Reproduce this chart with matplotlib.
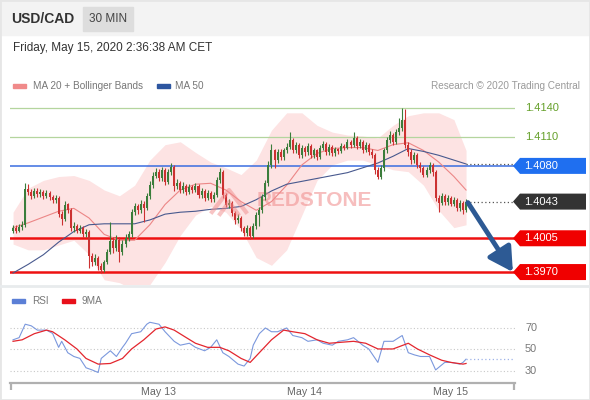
import matplotlib
matplotlib.use('Agg')
import matplotlib.pyplot as plt
import matplotlib.transforms as mtransforms
from matplotlib.patches import Rectangle, Polygon
from matplotlib.lines import Line2D
import numpy as np
import pandas as pd

plt.rcParams['font.family'] = ['Liberation Sans', 'DejaVu Sans']

# USD/CAD 30 min candles, 12 May 00:00 -> 15 May 02:30
closes = [1.4016, 1.4013, 1.4017, 1.4019, 1.4056, 1.4053, 1.4049, 1.4054, 1.4051, 1.4053,
          1.4049, 1.4052, 1.4048, 1.4045, 1.4047, 1.4030, 1.4025, 1.4040, 1.4034, 1.4016,
          1.4018, 1.4013, 1.4016, 1.4009, 1.4012, 1.3987, 1.3980, 1.3985, 1.3976, 1.3972,
          1.3980, 1.3991, 1.4002, 1.3995, 1.4003, 1.3991, 1.3999, 1.4005, 1.4009, 1.4032,
          1.4038, 1.4034, 1.4041, 1.4036, 1.4049, 1.4060, 1.4070, 1.4074, 1.4067, 1.4076,
          1.4063, 1.4074, 1.4079, 1.4059, 1.4062, 1.4055, 1.4059, 1.4053, 1.4058, 1.4055,
          1.4059, 1.4050, 1.4054, 1.4047, 1.4052, 1.4046, 1.4050, 1.4065, 1.4074, 1.4050,
          1.4040, 1.4042, 1.4031, 1.4024, 1.4026, 1.4016, 1.4010, 1.4016, 1.4007, 1.4018,
          1.4029, 1.4034, 1.4048, 1.4062, 1.4081, 1.4096, 1.4086, 1.4094, 1.4089, 1.4096,
          1.4100, 1.4107, 1.4096, 1.4102, 1.4091, 1.4099, 1.4094, 1.4101, 1.4091, 1.4096,
          1.4089, 1.4099, 1.4103, 1.4094, 1.4100, 1.4093, 1.4097, 1.4095, 1.4101, 1.4099,
          1.4105, 1.4102, 1.4109, 1.4101, 1.4105, 1.4096, 1.4102, 1.4094, 1.4091, 1.4076,
          1.4069, 1.4078, 1.4096, 1.4107, 1.4112, 1.4105, 1.4115, 1.4119, 1.4128, 1.4102,
          1.4094, 1.4086, 1.4091, 1.4081, 1.4078, 1.4071, 1.4076, 1.4081, 1.4074, 1.4047,
          1.4042, 1.4049, 1.4043, 1.4047, 1.4041, 1.4045, 1.4036, 1.4042, 1.4034, 1.4043]
opens = [1.4013] + closes[:-1]
highs = [1.4019, 1.4019, 1.4020, 1.4023, 1.4062, 1.4061, 1.4056, 1.4057, 1.4057, 1.4056,
         1.4055, 1.4055, 1.4054, 1.4050, 1.4050, 1.4049, 1.4033, 1.4044, 1.4042, 1.4036,
         1.4022, 1.4020, 1.4019, 1.4018, 1.4015, 1.4014, 1.3990, 1.3989, 1.3987, 1.3979,
         1.3983, 1.3994, 1.4022, 1.4006, 1.4008, 1.4006, 1.4003, 1.4009, 1.4013, 1.4035,
         1.4042, 1.4041, 1.4045, 1.4044, 1.4052, 1.4064, 1.4074, 1.4078, 1.4077, 1.4079,
         1.4078, 1.4077, 1.4083, 1.4081, 1.4066, 1.4064, 1.4063, 1.4061, 1.4061, 1.4060,
         1.4062, 1.4061, 1.4057, 1.4056, 1.4055, 1.4054, 1.4053, 1.4068, 1.4078, 1.4076,
         1.4052, 1.4046, 1.4044, 1.4033, 1.4030, 1.4028, 1.4018, 1.4019, 1.4018, 1.4021,
         1.4032, 1.4037, 1.4051, 1.4065, 1.4085, 1.4103, 1.4098, 1.4098, 1.4097, 1.4099,
         1.4104, 1.4115, 1.4109, 1.4105, 1.4104, 1.4102, 1.4101, 1.4104, 1.4103, 1.4099,
         1.4098, 1.4102, 1.4106, 1.4105, 1.4103, 1.4102, 1.4100, 1.4099, 1.4104, 1.4103,
         1.4108, 1.4107, 1.4115, 1.4111, 1.4108, 1.4107, 1.4105, 1.4104, 1.4097, 1.4093,
         1.4079, 1.4081, 1.4099, 1.4110, 1.4116, 1.4114, 1.4118, 1.4130, 1.4140, 1.4139,
         1.4105, 1.4097, 1.4094, 1.4093, 1.4084, 1.4080, 1.4079, 1.4084, 1.4083, 1.4076,
         1.4050, 1.4052, 1.4051, 1.4050, 1.4049, 1.4048, 1.4047, 1.4045, 1.4044, 1.4046]
lows = [1.4010, 1.4010, 1.4011, 1.4014, 1.4017, 1.4050, 1.4046, 1.4047, 1.4048, 1.4048,
        1.4046, 1.4047, 1.4045, 1.4042, 1.4042, 1.4027, 1.4019, 1.4023, 1.4031, 1.4013,
        1.4012, 1.4010, 1.4010, 1.4006, 1.4006, 1.3974, 1.3976, 1.3977, 1.3972, 1.3969,
        1.3970, 1.3978, 1.3989, 1.3990, 1.3992, 1.3980, 1.3988, 1.3996, 1.4002, 1.4006,
        1.4029, 1.4030, 1.4031, 1.4022, 1.4034, 1.4046, 1.4057, 1.4067, 1.4064, 1.4064,
        1.4060, 1.4061, 1.4071, 1.4054, 1.4056, 1.4052, 1.4052, 1.4050, 1.4051, 1.4052,
        1.4053, 1.4047, 1.4047, 1.4044, 1.4045, 1.4043, 1.4043, 1.4048, 1.4062, 1.4047,
        1.4037, 1.4036, 1.4028, 1.4020, 1.4021, 1.4013, 1.4007, 1.4007, 1.4004, 1.4005,
        1.4015, 1.4018, 1.4031, 1.4045, 1.4059, 1.4078, 1.4078, 1.4083, 1.4086, 1.4086,
        1.4093, 1.4097, 1.4093, 1.4093, 1.4088, 1.4088, 1.4090, 1.4091, 1.4088, 1.4088,
        1.4086, 1.4087, 1.4096, 1.4091, 1.4091, 1.4090, 1.4090, 1.4092, 1.4093, 1.4096,
        1.4097, 1.4099, 1.4100, 1.4098, 1.4099, 1.4093, 1.4094, 1.4091, 1.4088, 1.4072,
        1.4066, 1.4066, 1.4075, 1.4093, 1.4104, 1.4102, 1.4103, 1.4112, 1.4116, 1.4099,
        1.4090, 1.4082, 1.4083, 1.4078, 1.4074, 1.4068, 1.4068, 1.4073, 1.4070, 1.4044,
        1.4032, 1.4039, 1.4040, 1.4040, 1.4038, 1.4038, 1.4033, 1.4033, 1.4030, 1.4032]

# indicator lines, every 5th candle
ind_idx = list(range(0, 150, 5)) + [149]
ma20 = [1.4016, 1.4021, 1.4027, 1.4033, 1.4036, 1.4026, 1.4009, 1.4003, 1.4003, 1.4019,
        1.4040, 1.4055, 1.4061, 1.4062, 1.4055, 1.4043, 1.4034, 1.4043, 1.4060, 1.4081,
        1.4093, 1.4098, 1.4099, 1.4099, 1.4096, 1.4102, 1.4104, 1.4096, 1.4084, 1.4069, 1.4055]
bb_upper = [1.4032, 1.4057, 1.4065, 1.4069, 1.4070, 1.4065, 1.4055, 1.4049, 1.4060, 1.4086,
            1.4102, 1.4105, 1.4094, 1.4084, 1.4078, 1.4071, 1.4086, 1.4117, 1.4135, 1.4135,
            1.4122, 1.4115, 1.4112, 1.4111, 1.4109, 1.4122, 1.4132, 1.4135, 1.4135, 1.4128, 1.4096]
bb_lower = [1.3999, 1.3993, 1.3993, 1.3998, 1.4003, 1.3988, 1.3962, 1.3959, 1.3951, 1.3957,
            1.3980, 1.4008, 1.4029, 1.4038, 1.4032, 1.4014, 1.3985, 1.3977, 1.3993, 1.4029,
            1.4065, 1.4081, 1.4086, 1.4086, 1.4081, 1.4076, 1.4074, 1.4060, 1.4034, 1.4016, 1.4019]
ma50 = [1.3969, 1.3978, 1.3988, 1.4001, 1.4012, 1.4019, 1.4020, 1.4020, 1.4020, 1.4024,
        1.4030, 1.4032, 1.4033, 1.4035, 1.4036, 1.4038, 1.4045, 1.4054, 1.4061, 1.4064,
        1.4067, 1.4070, 1.4073, 1.4078, 1.4083, 1.4090, 1.4098, 1.4095, 1.4091, 1.4086, 1.4082]

rsi_idx = [0, 2, 4, 6, 8, 11, 13, 15, 16, 18, 20, 22, 24, 26, 28, 29, 32, 34, 36, 37,
           39, 42, 44, 45, 48, 50, 53, 55, 58, 60, 63, 65, 67, 69, 71, 74, 76, 78, 79, 81,
           83, 85, 87, 90, 92, 95, 97, 100, 102, 105, 107, 110, 112, 115, 117, 120, 122, 125, 128, 130,
           132, 134, 137, 139, 142, 144, 147, 148, 149]
rsi = [59, 61, 73.5, 72, 68, 68, 65, 52, 57.6, 47, 43.5, 41.7, 33, 31, 28.6, 41.7, 48.8, 43.5, 52, 55.8,
       64.7, 66.5, 73.5, 75.3, 73.5, 66.5, 57.6, 54, 55.8, 52, 48.8, 52, 59, 47, 43.5, 36.4, 34.6, 41.7, 54, 64.7,
       70, 66.5, 66.5, 70, 63, 61, 57.6, 59, 55.8, 54, 57.6, 59, 61, 54, 50.5, 38, 57.6, 57.6, 63, 47,
       45, 43.5, 43.5, 31, 38, 38, 36.4, 38, 41]
rsi_ma_idx = [0, 3, 7, 11, 13, 17, 21, 24, 28, 32, 36, 39, 43, 47, 50, 53, 57, 60, 64, 68,
              71, 75, 78, 81, 85, 89, 92, 96, 100, 104, 107, 112, 116, 120, 125, 130, 133, 137, 141, 144,
              148, 149]
rsi_ma = [57.6, 59, 64.7, 68, 66.5, 59, 50.5, 41.7, 36.4, 37, 41.7, 50.5, 59, 69, 71, 68, 61, 55.8, 52, 52,
          48.8, 41.7, 38, 47, 59, 68, 66.5, 64.7, 59, 55.8, 56.5, 57.6, 55.8, 50.5, 50.5, 55.8, 50.5, 45, 40, 38,
          36.4, 37]

resistances = [1.4140, 1.4110]
pivot = 1.4080
supports = [1.4005, 1.3970]
target = 1.3970

times = pd.date_range('2020-05-12 00:00', periods=len(closes), freq='30min')

W, H = 590, 400
fig = plt.figure(figsize=(W / 100, H / 100), dpi=100)


def fx(px):
    return px / W


def fy(px):
    return 1 - px / H


# header
fig.patches.append(Rectangle((0, fy(35)), 1, 35 / H, transform=fig.transFigure,
                             color='#f3f3f3', zorder=0))
fig.patches.append(Rectangle((fx(83), fy(31)), fx(50), 24 / H, transform=fig.transFigure,
                             color='#dddddd', zorder=1))
fig.patches.append(Rectangle((0, 0), 1, 1, transform=fig.transFigure, fill=False,
                             edgecolor='#e6e6e6', lw=2, zorder=0))
fig.text(fx(11), fy(19), 'USD/CAD', fontsize=10, fontweight='bold', color='#333333', va='center')
fig.text(fx(108), fy(19), '30 MIN', fontsize=8.5, color='#444444', va='center', ha='center')
fig.text(fx(13), fy(48), 'Friday, May 15, 2020 2:36:38 AM CET', fontsize=8.5,
         color='#333333', va='center')

# legends
fig.patches.append(Rectangle((fx(13), fy(88)), fx(13), 4 / H, transform=fig.transFigure, color='#f08a8a'))
fig.text(fx(33), fy(86), 'MA 20 + Bollinger Bands', fontsize=7.2, color='#777777', va='center')
fig.patches.append(Rectangle((fx(157), fy(88)), fx(13), 4 / H, transform=fig.transFigure, color='#2d56a0'))
fig.text(fx(175), fy(86), 'MA 50', fontsize=7.2, color='#777777', va='center')
fig.text(fx(580), fy(86), 'Research \u00a9 2020 Trading Central', fontsize=7.2, color='#9a9a9a',
         va='center', ha='right')

fig.add_artist(Line2D([0, 1], [fy(286), fy(286)], transform=fig.transFigure, color='#e8ebed', lw=2))

fig.patches.append(Rectangle((fx(12), fy(303)), fx(13), 4 / H, transform=fig.transFigure, color='#5b7fd6'))
fig.text(fx(32), fy(301), 'RSI', fontsize=7.2, color='#777777', va='center')
fig.patches.append(Rectangle((fx(62), fy(303)), fx(13), 4 / H, transform=fig.transFigure, color='#e8101a'))
fig.text(fx(82), fy(301), '9MA', fontsize=7.2, color='#777777', va='center')

# main price panel
x0, x1 = -1.0, 165.1
px_per_unit = 9650.0
ax = fig.add_axes([fx(10), fy(284), fx(505), 188 / H])
ax.set_xlim(x0, x1)
ax.set_ylim(1.4140 - 176 / px_per_unit, 1.4140 + 12 / px_per_unit)
ax.axis('off')

x = np.arange(len(closes))
o = np.array(opens)
c = np.array(closes)
up = c >= o
cols = np.where(up, '#3b7d3b', '#cc3131')

ax.fill_between(ind_idx, bb_lower, bb_upper, color='#fde3e3', lw=0, zorder=1)
ax.plot(ind_idx, ma20, color='#ec8686', lw=0.8, zorder=2)
ax.plot(ind_idx, ma50, color='#48598e', lw=0.8, zorder=2)

ax.text(99, 1.4044, 'REDSTONE', fontsize=15, fontweight='bold', color='#f08a8a', alpha=0.55,
        ha='center', va='center', zorder=2.5)
roof = fig.transFigure
fig.add_artist(Line2D([fx(212), fx(229), fx(246)], [fy(212), fy(190), fy(212)], transform=roof,
                      color='#f08a8a', alpha=0.5, lw=3))
fig.add_artist(Line2D([fx(220), fx(229), fx(238)], [fy(214), fy(202), fy(214)], transform=roof,
                      color='#f08a8a', alpha=0.5, lw=3))

for lvl in resistances:
    ax.axhline(lvl, color='#b4d59e', lw=0.9, zorder=1.5)
ax.axhline(pivot, color='#3a6de0', lw=1.1, zorder=1.5)
for lvl in supports:
    ax.axhline(lvl, color='#ee1111', lw=1.8, zorder=1.5)

ax.vlines(x, lows, highs, colors=cols, lw=0.8, zorder=3)
body = np.maximum(np.abs(c - o), 0.00006)
ax.bar(x, body, bottom=np.minimum(o, c), width=0.66, color=cols, lw=0, zorder=4)

ax.hlines(closes[-1], x[-1], x1, colors='#555555', linestyles=(0, (1, 2)), lw=0.9, zorder=3)
ax.hlines(ma50[-1], ind_idx[-1], x1, colors='#555555', linestyles=(0, (1, 2)), lw=0.9, zorder=3)

# price tags on the right
trans = mtransforms.blended_transform_factory(fig.transFigure, ax.transData)
hh = 8 / px_per_unit


def tag(price, color):
    pts = [(fx(513), price), (fx(520), price + hh), (fx(586), price + hh),
           (fx(586), price - hh), (fx(520), price - hh)]
    fig.add_artist(Polygon(pts, closed=True, transform=trans, facecolor=color,
                           edgecolor='none', zorder=5))
    fig.text(fx(524), price, f'{price:.4f}', transform=trans, color='white', fontsize=8,
             va='center', zorder=8)


for lvl in resistances:
    fig.text(fx(525), lvl, f'{lvl:.4f}', transform=trans, color='#65a02a', fontsize=8,
             va='center', zorder=8)
tag(pivot, '#1f6ff0')
tag(closes[-1], '#333333')
for lvl in supports:
    tag(lvl, '#f00000')

ax.annotate('', xy=(164.4, target), xytext=(x[-1] + 0.6, closes[-1] - 0.0001),
            arrowprops=dict(arrowstyle='-|>,head_length=0.8,head_width=0.45', lw=3.5,
                            color='#2d5a94', shrinkA=0, shrinkB=0, mutation_scale=18),
            zorder=6, annotation_clip=False)

# RSI panel
ax2 = fig.add_axes([fx(10), fy(383), fx(505), 93 / H])
ax2.set_xlim(x0, x1)
ax2.set_ylim(18.85, 105.3)
for s in ['top', 'left', 'right']:
    ax2.spines[s].set_visible(False)
ax2.spines['bottom'].set_color('#b0b0b0')
ax2.spines['bottom'].set_linewidth(1.6)
ax2.set_yticks([])

for v in (70, 50, 30):
    ax2.axhline(v, color='#c8c8c8', ls=(0, (1, 2)), lw=0.8)
tr2 = mtransforms.blended_transform_factory(fig.transFigure, ax2.transData)
for v in (70, 50, 30):
    fig.text(fx(525), v, str(v), transform=tr2, color='#777777', fontsize=7.8, va='center')

ax2.plot(rsi_idx, rsi, color='#7b98dd', lw=0.8)
ax2.plot(rsi_ma_idx, rsi_ma, color='#e3262e', lw=0.9)
ax2.hlines(rsi[-1], rsi_idx[-1], x1, colors='#9fb3e8', linestyles=(0, (1, 2)), lw=0.9)

day_pos = [i for i, t in enumerate(times) if t.hour == 0 and t.minute == 0 and i > 0]
ax2.set_xticks(day_pos)
ax2.set_xticklabels([f'{times[i]:%b} {times[i].day}' for i in day_pos])
ax2.tick_params(axis='x', which='major', length=0, pad=3, labelsize=7.7, labelcolor='#666666')
ax2.set_xticks([x0 + 0.2, x1 - 0.2], minor=True)
ax2.tick_params(axis='x', which='minor', length=5, width=1.6, color='#b0b0b0', direction='out')

fig.savefig('out.png', dpi=100)
